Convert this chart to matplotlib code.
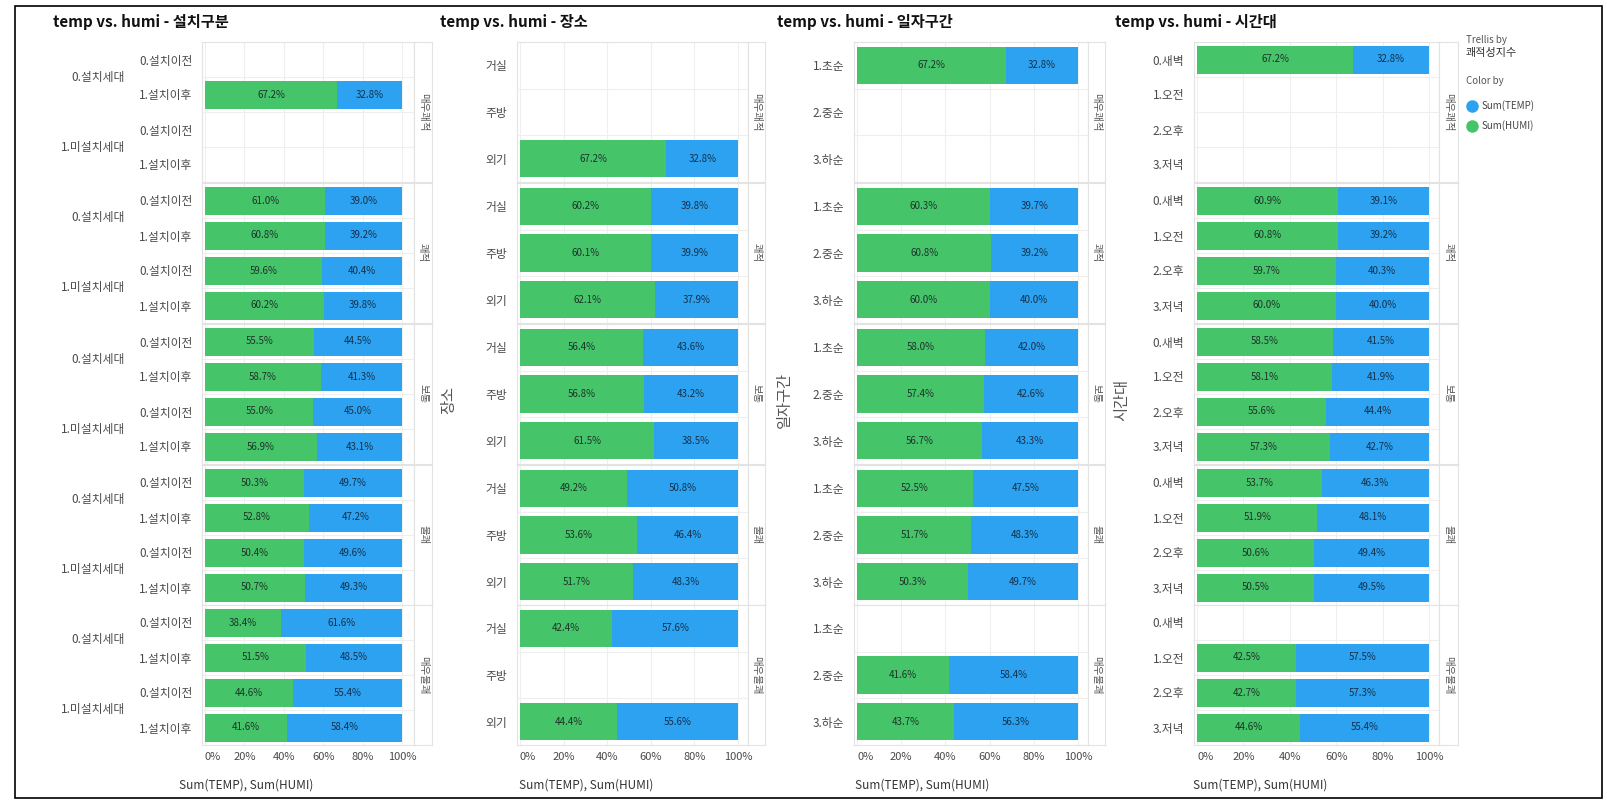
import numpy as np
import matplotlib.pyplot as plt
from matplotlib import transforms
from matplotlib.patches import Rectangle

plt.rcParams['font.family'] = ['Noto Sans CJK KR', 'DejaVu Sans']

W, H = 1607, 801

# ================== DATA ==================
comfort_levels = ["매우쾌적", "쾌적", "보통", "불쾌", "매우불쾌"]
x_ticks = [0, 20, 40, 60, 80, 100]

# panel 1 : 설치구분 (two level category axis)
install_groups = ["0.설치세대", "1.미설치세대"]
install_cats = ["0.설치이전", "1.설치이후", "0.설치이전", "1.설치이후"]
install_humi = [
    [None, 67.2, None, None],
    [61.0, 60.8, 59.6, 60.2],
    [55.5, 58.7, 55.0, 56.9],
    [50.3, 52.8, 50.4, 50.7],
    [38.4, 51.5, 44.6, 41.6],
]
install_temp = [
    [None, 32.8, None, None],
    [39.0, 39.2, 40.4, 39.8],
    [44.5, 41.3, 45.0, 43.1],
    [49.7, 47.2, 49.6, 49.3],
    [61.6, 48.5, 55.4, 58.4],
]

# panel 2 : 장소
place_cats = ["거실", "주방", "외기"]
place_humi = [
    [None, None, 67.2],
    [60.2, 60.1, 62.1],
    [56.4, 56.8, 61.5],
    [49.2, 53.6, 51.7],
    [42.4, None, 44.4],
]
place_temp = [
    [None, None, 32.8],
    [39.8, 39.9, 37.9],
    [43.6, 43.2, 38.5],
    [50.8, 46.4, 48.3],
    [57.6, None, 55.6],
]

# panel 3 : 일자구간
day_cats = ["1.초순", "2.중순", "3.하순"]
day_humi = [
    [67.2, None, None],
    [60.3, 60.8, 60.0],
    [58.0, 57.4, 56.7],
    [52.5, 51.7, 50.3],
    [None, 41.6, 43.7],
]
day_temp = [
    [32.8, None, None],
    [39.7, 39.2, 40.0],
    [42.0, 42.6, 43.3],
    [47.5, 48.3, 49.7],
    [None, 58.4, 56.3],
]

# panel 4 : 시간대
time_cats = ["0.새벽", "1.오전", "2.오후", "3.저녁"]
time_humi = [
    [67.2, None, None, None],
    [60.9, 60.8, 59.7, 60.0],
    [58.5, 58.1, 55.6, 57.3],
    [53.7, 51.9, 50.6, 50.5],
    [None, 42.5, 42.7, 44.6],
]
time_temp = [
    [32.8, None, None, None],
    [39.1, 39.2, 40.3, 40.0],
    [41.5, 41.9, 44.4, 42.7],
    [46.3, 48.1, 49.4, 49.5],
    [None, 57.5, 57.3, 55.4],
]
# ==========================================

GREEN = "#45C46A"
BLUE = "#2CA2F0"
GRID = "#EFEFEF"
FRAME = "#E3E3E3"
TICK = "#4A4A4A"

panels = [
    dict(title="temp vs. humi - 설치구분", cats=install_cats, humi=install_humi,
         temp=install_temp, ylabel=None, groups=install_groups),
    dict(title="temp vs. humi - 장소", cats=place_cats, humi=place_humi,
         temp=place_temp, ylabel="장소"),
    dict(title="temp vs. humi - 일자구간", cats=day_cats, humi=day_humi,
         temp=day_temp, ylabel="일자구간"),
    dict(title="temp vs. humi - 시간대", cats=time_cats, humi=time_humi,
         temp=time_temp, ylabel="시간대"),
]

# pixel geometry: bar 0%, bar 100%, plot right, strip right, title x, ylabel x, xlabel center
geom = [
    dict(b0=205, b1=402, right=414, strip=432, tx=53, ylx=None, xlx=246),
    dict(b0=520, b1=738, right=748, strip=765, tx=440, ylx=449, xlx=586),
    dict(b0=857, b1=1078, right=1088, strip=1105, tx=777, ylx=784, xlx=922),
    dict(b0=1197, b1=1429, right=1439, strip=1458, tx=1115, ylx=1122, xlx=1260),
]

row_tops = [42, 183, 324, 465, 605]
row_h = 140


def fx(x):
    return x / W


def fy(y):
    return 1 - y / H


fig = plt.figure(figsize=(W / 100, H / 100), dpi=100)

for p, g in zip(panels, geom):
    ncat = len(p["cats"])
    span = g["b1"] - g["b0"]
    xmin = -3 / span
    xmax = (g["right"] - g["b0"]) / span

    fig.text(fx(g["tx"]), fy(22), p["title"], fontsize=11, fontweight="bold",
             color="#111111", va="center", ha="left")

    for r, level in enumerate(comfort_levels):
        top = row_tops[r]
        ax = fig.add_axes([fx(g["b0"] - 3), fy(top + row_h),
                           fx(g["right"]) - fx(g["b0"] - 3), row_h / H])
        ax.set_xlim(xmin, xmax)
        ax.set_ylim(ncat - 0.5, -0.5)

        for xt in x_ticks:
            ax.axvline(xt / 100, color=GRID, lw=0.8, zorder=0)
        for k in range(ncat - 1):
            ax.axhline(k + 0.5, color=GRID, lw=0.8, zorder=0)

        for k in range(ncat):
            h = p["humi"][r][k]
            t = p["temp"][r][k]
            if h is None:
                continue
            ax.barh(k, h / 100, height=0.8, color=GREEN, zorder=2)
            ax.barh(k, t / 100, left=h / 100, height=0.8, color=BLUE, zorder=2)
            ax.text(h / 200, k, f"{h:.1f}%", ha="center", va="center",
                    fontsize=7, color="#1E3328", zorder=3)
            ax.text(h / 100 + t / 200, k, f"{t:.1f}%", ha="center", va="center",
                    fontsize=7, color="#15304A", zorder=3)

        ax.set_yticks(range(ncat))
        ax.set_yticklabels(p["cats"], fontsize=8.5, color=TICK)
        ax.tick_params(axis="y", length=0, pad=7)

        if r == len(comfort_levels) - 1:
            ax.set_xticks([xt / 100 for xt in x_ticks])
            ax.set_xticklabels([f"{xt}%" for xt in x_ticks], fontsize=8, color=TICK)
            ax.get_xticklabels()[0].set_ha("left")
            ax.tick_params(axis="x", length=0, pad=5)
        else:
            ax.set_xticks([])

        for s in ax.spines.values():
            s.set_color(FRAME)
            s.set_linewidth(0.8)

        # outer group labels (first panel only)
        if p.get("groups"):
            trans = transforms.blended_transform_factory(fig.transFigure, ax.transData)
            for gi, grp in enumerate(p["groups"]):
                ax.text(fx(125), gi * 2 + 0.5, grp, transform=trans, ha="right",
                        va="center", fontsize=8.5, color=TICK)

        # trellis strip
        sax = fig.add_axes([fx(g["right"]), fy(top + row_h),
                            fx(g["strip"]) - fx(g["right"]), row_h / H])
        sax.set_xticks([])
        sax.set_yticks([])
        for s in sax.spines.values():
            s.set_color(FRAME)
            s.set_linewidth(0.8)
        sax.text(0.5, 0.5, level, rotation=-90, ha="center", va="center",
                 fontsize=7.5, color="#555555", transform=sax.transAxes)

    if g["ylx"] is not None:
        fig.text(fx(g["ylx"]), fy(400), p["ylabel"], rotation=90, ha="center",
                 va="center", fontsize=11, color="#555555")

    fig.text(fx(g["xlx"]), fy(785), "Sum(TEMP), Sum(HUMI)", ha="center",
             va="center", fontsize=8.5, color="#333333")

# legend
fig.text(fx(1466), fy(40), "Trellis by", fontsize=7, color="#555555", va="center")
fig.text(fx(1466), fy(53), "쾌적성지수", fontsize=8, color="#333333", va="center")
fig.text(fx(1466), fy(81), "Color by", fontsize=7, color="#555555", va="center")
for yy, col, lab in [(106, BLUE, "Sum(TEMP)"), (126, GREEN, "Sum(HUMI)")]:
    fig.lines.append(plt.Line2D([fx(1472)], [fy(yy)], marker="o", markersize=8,
                                color=col, transform=fig.transFigure))
    fig.text(fx(1482), fy(yy), lab, fontsize=7, color="#444444", va="center")

# outer border
fig.patches.append(Rectangle((fx(15), fy(798)), fx(1602) - fx(15), fy(6) - fy(798),
                             fill=False, edgecolor="black", lw=1.2,
                             transform=fig.transFigure))

fig.savefig("out.png", dpi=100)
